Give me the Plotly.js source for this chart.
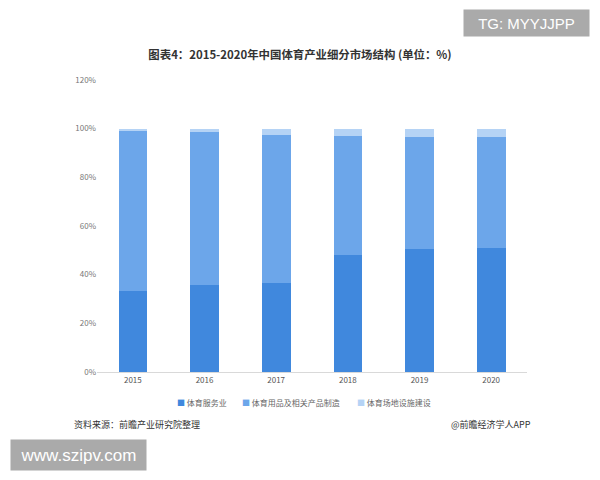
<!DOCTYPE html>
<html>
<head>
<meta charset="utf-8">
<script src="https://cdn.plot.ly/plotly-3.0.1.min.js"></script>
<style>html,body{margin:0;padding:0;background:#fff;}#chart{width:600px;height:480px;}</style>
</head>
<body>
<div id="chart"></div>
<script>
const years = ['2015', '2016', '2017', '2018', '2019', '2020'];
const seriesNames = ['体育服务业', '体育用品及相关产品制造', '体育场地设施建设'];
const services = [33.2, 35.7, 36.5, 48.0, 50.4, 50.8];
const manufacturing = [66.0, 63.1, 61.0, 49.1, 46.3, 45.9];
const construction = [0.8, 1.2, 2.5, 2.9, 3.3, 3.3];
const yTickVals = [0, 20, 40, 60, 80, 100, 120];
const yTickText = ['0%', '20%', '40%', '60%', '80%', '100%', '120%'];

const colors = ['#4088DD', '#6CA6EA', '#B5D3F5'];
const font = '"Noto Sans CJK SC", "Microsoft YaHei", sans-serif';

const traces = [services, manufacturing, construction].map((vals, i) => ({
  type: 'bar', x: years, y: vals, name: seriesNames[i],
  marker: {color: colors[i]}, hoverinfo: 'skip'
}));

const plotL = 97, plotW = 430, plotB = 372, plotH = 292;
const px = x => (x - plotL) / plotW;
const py = y => (plotB - y) / plotH;

const legendX = [175, 240, 355];
const legendAnns = seriesNames.map((n, i) => ({
  text: '<span style="color:' + colors[i] + '">■</span> ' + n,
  xref: 'paper', yref: 'paper', x: px(legendX[i]), y: py(402),
  xanchor: 'left', yanchor: 'middle', showarrow: false,
  font: {size: 8, color: '#666'}
}));

const layout = {
  width: 600, height: 480,
  margin: {l: 97, r: 73, t: 80, b: 108},
  barmode: 'stack', bargap: 0.6,
  paper_bgcolor: '#fff', plot_bgcolor: '#fff',
  font: {family: font, size: 8, color: '#666'},
  title: {text: '<b>图表4：2015-2020年中国体育产业细分市场结构 (单位：%)</b>',
          font: {family: font, size: 11.4, color: '#333'}, x: 0.5, xanchor: 'center', y: 0.885, yanchor: 'middle'},
  xaxis: {type: 'category', showline: true, linecolor: '#d9d9d9', linewidth: 1,
          ticks: '', tickfont: {size: 8, color: '#555'}, showgrid: false, fixedrange: true},
  yaxis: {range: [0, 120], tickvals: yTickVals, ticktext: yTickText, showgrid: false,
          zeroline: false, showline: false, ticks: '', tickfont: {size: 8, color: '#777'}, fixedrange: true},
  showlegend: false,
  annotations: legendAnns.concat([
    {text: '资料来源：前瞻产业研究院整理', xref: 'paper', yref: 'paper', x: px(72), y: py(424),
     xanchor: 'left', yanchor: 'middle', showarrow: false, font: {size: 9, color: '#333'}},
    {text: '@前瞻经济学人APP', xref: 'paper', yref: 'paper', x: px(533), y: py(424),
     xanchor: 'right', yanchor: 'middle', showarrow: false, font: {size: 9, color: '#333'}},
    {text: 'TG: MYYJJPP', xref: 'paper', yref: 'paper', x: px(590), y: py(23),
     xanchor: 'right', yanchor: 'middle', showarrow: false, bgcolor: '#aaaaaa',
     borderpad: 4, width: 117, height: 18,
     font: {family: 'Liberation Sans, Arial, sans-serif', size: 15, color: '#fff'}},
    {text: 'www.szipv.com', xref: 'paper', yref: 'paper', x: px(10), y: py(455),
     xanchor: 'left', yanchor: 'middle', showarrow: false, bgcolor: '#aaaaaa',
     borderpad: 4, width: 127, height: 22,
     font: {family: 'Liberation Sans, Arial, sans-serif', size: 17, color: '#fff'}}
  ])
};

Plotly.newPlot('chart', traces, layout, {displayModeBar: false, staticPlot: true});
</script>
</body>
</html>
